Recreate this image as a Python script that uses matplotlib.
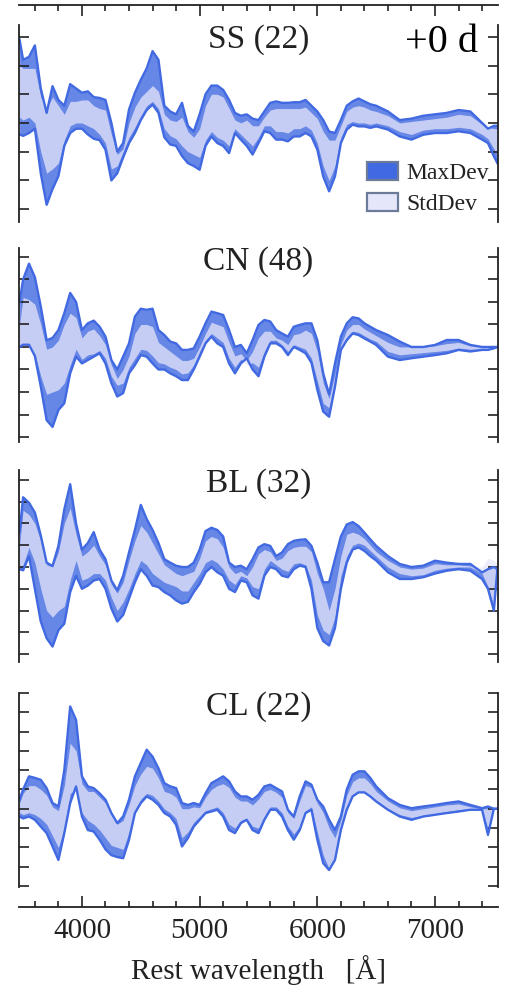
import matplotlib.pyplot as plt
from matplotlib.patches import Patch
from matplotlib.ticker import MultipleLocator

plt.rcParams['font.family'] = ['Liberation Serif', 'DejaVu Serif']

# wavelength grid (Angstrom)
wl = [3470, 3500, 3550, 3600, 3650, 3700, 3750, 3800, 3850, 3900,
      3950, 4000, 4050, 4100, 4150, 4200, 4250, 4300, 4350, 4400,
      4450, 4500, 4550, 4600, 4650, 4700, 4750, 4800, 4850, 4900,
      4950, 5000, 5050, 5100, 5150, 5200, 5250, 5300, 5350, 5400,
      5450, 5500, 5550, 5600, 5650, 5700, 5750, 5800, 5850, 5900,
      5950, 6000, 6050, 6100, 6150, 6200, 6250, 6300, 6350, 6400,
      6450, 6500, 6600, 6700, 6800, 6900, 7000, 7100, 7200, 7300,
      7400, 7450, 7500, 7530]

# SS (22)
ss_max_hi = [2.9, 2.2, 2.3, 2.7, 1.2, 0.35, 1.28, 0.8, 0.6, 1.35,
             1.2, 1.05, 1.1, 0.9, 0.87, 0.8, 0.0, -1.0, -0.7, 0.47,
             1.05, 1.5, 1.9, 2.5, 2.2, 0.6, 0.4, 0.3, 0.7, -0.1,
             -0.3, 0.3, 1.0, 1.3, 1.3, 1.15, 0.8, 0.35, 0.25, 0.3,
             0.15, 0.1, 0.4, 0.7, 0.75, 0.7, 0.7, 0.72, 0.72, 0.8,
             0.6, 0.4, 0.1, -0.3, -0.35, 0.1, 0.6, 0.75, 0.85, 0.75,
             0.65, 0.6, 0.4, 0.1, 0.15, 0.25, 0.3, 0.35, 0.45, 0.4,
             0.0, -0.2, -0.1, -0.1]
ss_max_lo = [-0.4, -0.45, -0.35, -0.2, -1.75, -2.85, -2.3, -1.85, -0.8, -0.35,
             -0.2, -0.2, -0.4, -0.55, -0.6, -0.93, -2.0, -1.75, -1.2, -0.7,
             -0.35, 0.1, 0.45, 0.64, 0.35, -0.5, -0.75, -0.8, -1.15, -1.4,
             -1.5, -1.63, -0.8, -0.47, -0.7, -0.8, -1.05, -0.35, -0.58, -0.8,
             -1.1, -0.7, -0.29, -0.35, -0.58, -0.58, -0.64, -0.47, -0.47, -0.35,
             -0.47, -0.93, -1.86, -2.38, -1.86, -0.7, -0.23, -0.06, -0.12, -0.12,
             -0.17, -0.12, -0.23, -0.47, -0.58, -0.41, -0.35, -0.35, -0.29, -0.35,
             -0.58, -0.7, -1.16, -1.4]
ss_std_hi = [2.0, 1.9, 1.9, 1.9, 0.9, 0.5, 0.9, 0.6, 0.3, 0.75,
             0.75, 0.8, 0.8, 0.6, 0.5, 0.45, -0.4, -1.1, -0.9, 0.0,
             0.55, 0.9, 1.1, 1.3, 1.1, 0.3, 0.1, 0.05, 0.2, -0.3,
             -0.5, -0.2, 0.6, 1.0, 1.0, 0.9, 0.5, 0.1, 0.0, 0.1,
             -0.1, -0.1, 0.2, 0.45, 0.5, 0.5, 0.5, 0.5, 0.5, 0.55,
             0.35, 0.15, -0.3, -0.6, -0.6, -0.1, 0.4, 0.55, 0.6, 0.55,
             0.45, 0.4, 0.25, 0.0, 0.05, 0.1, 0.15, 0.2, 0.3, 0.25,
             -0.05, -0.15, -0.2, -0.2]
ss_std_lo = [0.2, 0.1, 0.2, 0.0, -1.0, -1.75, -1.6, -1.4, -0.6, -0.1,
             0.0, 0.0, -0.1, -0.2, -0.4, -0.7, -1.6, -1.5, -1.0, -0.5,
             -0.15, 0.25, 0.6, 0.75, 0.5, -0.2, -0.45, -0.55, -0.8, -1.0,
             -1.1, -1.2, -0.6, -0.3, -0.5, -0.6, -0.8, -0.2, -0.4, -0.6,
             -0.8, -0.5, -0.1, -0.1, -0.3, -0.3, -0.35, -0.2, -0.2, -0.1,
             -0.25, -0.7, -1.5, -2.0, -1.5, -0.5, -0.05, 0.05, 0.0, 0.0,
             -0.05, 0.0, -0.1, -0.3, -0.4, -0.25, -0.2, -0.2, -0.15, -0.2,
             -0.4, -0.55, -0.9, -1.1]

# CN (48)
cn_max_hi = [2.0, 3.0, 3.7, 3.1, 1.8, 0.3, 0.4, 0.75, 1.5, 2.4,
             2.0, 0.75, 1.05, 1.17, 0.9, 0.46, -0.58, -1.0, -0.43, 0.16,
             1.35, 1.7, 1.65, 1.7, 0.75, 0.53, 0.24, 0.16, -0.13, -0.13,
             -0.06, 0.46, 1.05, 1.57, 1.5, 1.42, 0.75, 0.0, 0.09, -0.28,
             0.31, 0.98, 1.2, 1.13, 0.75, 0.6, 0.46, 0.9, 0.98, 1.05,
             1.05, 0.3, -1.17, -2.1, -0.73, 0.46, 1.05, 1.32, 1.27, 1.05,
             0.9, 0.75, 0.53, 0.24, 0.0, 0.0, 0.09, 0.31, 0.31, 0.09,
             0.0, 0.0, 0.0, 0.0]
cn_max_lo = [0.0, 0.1, 0.1, -0.4, -1.75, -3.25, -3.55, -2.8, -2.5, -1.17,
             -0.43, -0.73, -0.58, -0.43, -0.28, -0.73, -1.6, -2.2, -2.05, -1.17,
             -0.8, -0.36, -0.43, -0.73, -1.0, -1.0, -1.17, -1.3, -1.47, -1.47,
             -1.0, -0.43, 0.16, 0.46, 0.16, 0.0, -0.73, -1.17, -0.73, -0.5,
             -1.0, -1.3, -0.43, 0.16, 0.16, 0.0, -0.36, 0.0, -0.13, -0.28,
             -0.7, -1.9, -2.87, -3.1, -1.76, -0.13, 0.3, 0.6, 0.53, 0.38,
             0.24, 0.09, -0.43, -0.58, -0.5, -0.43, -0.36, -0.28, -0.13, -0.2,
             -0.13, -0.13, -0.06, 0.0]
cn_std_hi = [1.0, 2.2, 2.1, 1.9, 1.0, -0.1, 0.0, 0.3, 1.0, 1.5,
             1.3, 0.4, 0.7, 0.8, 0.5, 0.1, -0.8, -1.4, -1.0, -0.4,
             0.6, 1.0, 1.0, 0.9, 0.2, 0.0, -0.2, -0.4, -0.6, -0.6,
             -0.5, 0.0, 0.6, 1.1, 1.0, 0.9, 0.2, -0.4, -0.3, -0.6,
             -0.2, 0.4, 0.7, 0.7, 0.4, 0.3, 0.1, 0.55, 0.6, 0.75,
             0.6, -0.2, -1.6, -2.3, -1.2, 0.1, 0.75, 1.0, 1.0, 0.8,
             0.65, 0.5, 0.2, 0.0, 0.0, 0.0, 0.05, 0.15, 0.2, 0.05,
             0.0, 0.0, 0.0, 0.0]
cn_std_lo = [0.05, 0.0, 0.0, -0.3, -1.3, -2.1, -2.0, -1.9, -1.6, -0.8,
             -0.1, -0.55, -0.35, -0.3, -0.15, -0.5, -1.3, -1.7, -1.6, -0.9,
             -0.5, -0.1, -0.15, -0.4, -0.7, -0.75, -0.9, -1.0, -1.2, -1.15,
             -0.8, -0.2, 0.3, 0.6, 0.4, 0.2, -0.5, -0.9, -0.55, -0.8,
             -0.7, -0.9, -0.2, 0.3, 0.3, 0.1, -0.2, 0.1, 0.0, -0.1,
             -0.5, -1.5, -2.5, -2.7, -1.5, -0.1, 0.45, 0.7, 0.65, 0.5,
             0.35, 0.25, -0.2, -0.35, -0.3, -0.25, -0.2, -0.15, -0.05, -0.1,
             -0.1, -0.1, -0.05, 0.0]

# BL (32)
bl_max_hi = [1.6, 3.2, 2.95, 2.5, 1.45, 0.2, 0.05, 0.97, 2.64, 3.8,
             2.0, 0.8, 1.1, 1.6, 0.8, 0.36, -0.62, -1.07, -0.4, 0.67,
             1.7, 2.85, 2.2, 1.7, 1.1, 0.36, 0.2, 0.06, 0.0, 0.0,
             0.2, 0.8, 1.65, 1.8, 1.7, 1.4, 0.2, 0.0, 0.06, -0.1,
             0.36, 0.9, 1.05, 0.97, 0.5, 0.67, 1.05, 1.2, 1.25, 1.27,
             0.97, 0.2, -0.7, -0.7, 0.36, 1.4, 1.95, 2.06, 1.88, 1.58,
             1.27, 0.97, 0.5, 0.14, 0.0, 0.06, 0.29, 0.2, 0.14, 0.14,
             -0.25, -0.1, 0.0, -0.1]
bl_max_lo = [-0.1, -0.15, 0.5, -1.0, -2.5, -3.27, -3.65, -2.9, -2.6, -1.15,
             -0.4, -1.0, -0.85, -0.62, -0.55, -1.0, -1.9, -2.5, -2.2, -1.45,
             -0.7, -0.1, -0.4, -0.85, -0.92, -1.15, -1.3, -1.53, -1.68, -1.6,
             -1.15, -0.77, -0.24, 0.0, -0.24, -0.4, -1.0, -1.15, -0.62, -0.7,
             -1.3, -1.45, -0.4, 0.0, -0.1, -0.4, -0.47, -0.1, 0.06, 0.0,
             -1.0, -2.8, -3.4, -3.6, -2.8, -1.0, 0.2, 0.8, 0.9, 0.74,
             0.5, 0.3, -0.24, -0.55, -0.55, -0.47, -0.3, -0.17, -0.1, -0.17,
             -0.55, -1.0, -2.0, -0.1]
bl_std_hi = [1.0, 2.6, 2.4, 2.0, 1.2, 0.1, 0.0, 0.7, 2.0, 2.7,
             1.5, 0.5, 0.7, 1.0, 0.5, 0.1, -0.8, -1.2, -0.7, 0.3,
             1.2, 1.9, 1.6, 1.1, 0.6, 0.1, -0.1, -0.3, -0.4, -0.3,
             -0.2, 0.4, 1.2, 1.4, 1.3, 0.9, 0.0, -0.3, -0.2, -0.4,
             0.0, 0.6, 0.8, 0.7, 0.3, 0.4, 0.75, 0.9, 0.95, 0.95,
             0.7, -0.3, -1.0, -2.0, -1.0, 0.5, 1.5, 1.6, 1.5, 1.3,
             1.0, 0.7, 0.3, 0.0, -0.1, -0.05, 0.15, 0.1, 0.1, 0.05,
             0.0, 0.4, 0.3, 0.1]
bl_std_lo = [0.0, 0.1, 0.9, 0.2, -1.0, -2.0, -2.3, -2.0, -1.8, -0.6,
             0.3, -0.6, -0.5, -0.3, -0.3, -0.6, -1.4, -2.0, -1.6, -1.0,
             -0.3, 0.3, 0.1, -0.3, -0.5, -0.7, -0.8, -0.9, -1.1, -1.1,
             -0.7, -0.3, 0.2, 0.35, 0.2, -0.1, -0.6, -0.8, -0.4, -0.5,
             -0.9, -1.0, -0.1, 0.3, 0.1, -0.1, -0.2, 0.15, 0.2, 0.1,
             -0.6, -2.2, -2.9, -3.1, -2.3, -0.4, 0.5, 1.0, 1.1, 1.0,
             0.75, 0.5, 0.0, -0.3, -0.4, -0.35, -0.15, -0.05, 0.0, 0.0,
             -0.3, -0.9, -1.8, -0.2]

# CL (22)
cl_max_hi = [0.47, 1.0, 1.68, 1.6, 1.5, 1.07, 0.3, 0.12, 2.0, 5.3,
             4.6, 1.68, 1.16, 1.07, 0.8, 0.47, -0.22, -0.74, -0.4, 0.47,
             1.68, 2.37, 3.06, 2.7, 2.1, 1.33, 1.16, 1.07, 0.3, 0.2,
             0.3, 0.2, 0.8, 1.33, 1.5, 1.68, 1.42, 0.9, 0.64, 0.64,
             0.47, 0.72, 1.16, 1.25, 1.07, 0.9, -0.05, -0.4, 0.64, 1.42,
             1.25, 0.47, 0.12, -0.57, -1.1, -0.4, 1.0, 1.76, 1.94, 1.94,
             1.6, 1.16, 0.55, 0.2, 0.03, 0.12, 0.2, 0.3, 0.38, 0.2,
             0.03, 0.12, 0.0, 0.0]
cl_max_lo = [-0.4, -0.5, -0.4, -0.57, -0.92, -1.26, -1.95, -2.65, -1.26, 0.3,
             1.16, -0.4, -1.1, -1.18, -1.6, -2.1, -2.4, -2.5, -2.56, -1.6,
             -0.22, 0.3, 0.64, 0.47, 0.2, -0.22, -0.4, -0.83, -1.95, -1.52,
             -0.92, -0.57, -0.22, -0.14, -0.05, -0.4, -1.1, -1.26, -0.74, -0.57,
             -1.1, -1.26, -0.57, -0.05, -0.05, -0.4, -1.1, -1.6, -1.1, -0.22,
             -0.05, -1.6, -2.82, -3.17, -2.65, -1.1, -0.05, 0.64, 0.85, 0.85,
             0.64, 0.38, -0.05, -0.4, -0.57, -0.4, -0.31, -0.22, -0.14, -0.05,
             -0.05, -1.35, 0.0, 0.0]
cl_std_hi = [0.3, 0.8, 1.2, 1.2, 1.0, 0.7, 0.1, -0.1, 1.2, 3.4,
             3.0, 1.3, 0.9, 0.9, 0.6, 0.3, -0.3, -0.8, -0.6, 0.2,
             1.2, 1.8, 2.2, 2.1, 1.6, 0.9, 0.8, 0.6, 0.0, 0.0,
             0.1, 0.05, 0.6, 1.0, 1.2, 1.3, 1.1, 0.6, 0.4, 0.4,
             0.2, 0.5, 0.9, 1.0, 0.85, 0.6, -0.2, -0.5, 0.4, 1.2,
             1.1, 0.3, -0.2, -1.0, -1.5, -0.6, 0.7, 1.4, 1.6, 1.6,
             1.3, 0.9, 0.4, 0.05, -0.1, 0.0, 0.1, 0.2, 0.25, 0.1,
             0.0, 0.0, 0.0, 0.0]
cl_std_lo = [-0.2, -0.3, -0.2, -0.3, -0.5, -0.8, -1.4, -2.0, -1.0, 0.8,
             1.0, -0.2, -0.6, -0.8, -1.1, -1.5, -1.9, -2.0, -2.1, -1.2,
             -0.1, 0.5, 0.8, 0.7, 0.4, 0.0, -0.2, -0.5, -1.5, -1.2,
             -0.7, -0.4, -0.1, 0.0, 0.1, -0.2, -0.8, -1.0, -0.6, -0.5,
             -0.9, -1.0, -0.4, 0.1, 0.1, -0.2, -0.9, -1.3, -0.9, -0.1,
             0.1, -1.2, -2.4, -3.1, -2.5, -1.0, 0.0, 0.7, 0.85, 0.85,
             0.65, 0.4, 0.0, -0.3, -0.45, -0.35, -0.25, -0.15, -0.05, 0.0,
             -0.05, -1.0, 0.0, 0.0]

titles = ['SS (22)', 'CN (48)', 'BL (32)', 'CL (22)']
max_hi = [ss_max_hi, cn_max_hi, bl_max_hi, cl_max_hi]
max_lo = [ss_max_lo, cn_max_lo, bl_max_lo, cl_max_lo]
std_hi = [ss_std_hi, cn_std_hi, bl_std_hi, cl_std_hi]
std_lo = [ss_std_lo, cn_std_lo, bl_std_lo, cl_std_lo]
ylims = [(-3.45, 3.41), (-4.22, 4.4), (-4.36, 4.45), (-4.05, 6.0)]
yticks = [range(-3, 4), range(-4, 5), range(-4, 5), range(-4, 7)]

# panel rectangles in figure fractions: [left, bottom, width, height]
rects = [[0.0376, 0.7746, 0.9485, 0.2000],
         [0.0376, 0.5513, 0.9485, 0.1970],
         [0.0376, 0.3279, 0.9485, 0.1949],
         [0.0376, 0.0995, 0.9485, 0.1970]]

xmin, xmax = 3465, 7535
txt = '#222222'
blue = 'royalblue'

fig = plt.figure(figsize=(5.05, 9.85), dpi=100)

# outer frame carrying only the top and bottom wavelength axes
bg = fig.add_axes([0.0376, 0.0792, 0.9485, 0.9157])
bg.set_xlim(xmin, xmax)
bg.set_ylim(0, 1)
bg.patch.set_visible(False)
bg.spines['left'].set_visible(False)
bg.spines['right'].set_visible(False)
for s in ['top', 'bottom']:
    bg.spines[s].set_linewidth(1.3)
    bg.spines[s].set_color(txt)
bg.set_yticks([])
bg.xaxis.set_major_locator(MultipleLocator(1000))
bg.xaxis.set_minor_locator(MultipleLocator(200))
bg.tick_params(axis='x', which='both', direction='in', top=True, bottom=True,
               width=1.2, color=txt, labelsize=21, labelcolor=txt, pad=8)
bg.tick_params(axis='x', which='major', length=8)
bg.tick_params(axis='x', which='minor', length=4)
bg.set_xlabel('Rest wavelength   [Å]', fontsize=21, color=txt, labelpad=8)

for i in range(4):
    ax = fig.add_axes(rects[i])
    ax.patch.set_visible(False)
    ax.fill_between(wl, max_lo[i], max_hi[i], color=blue, alpha=0.8, lw=0)
    ax.fill_between(wl, std_lo[i], std_hi[i], color='lavender', alpha=0.75, lw=0)
    ax.plot(wl, max_hi[i], color=blue, lw=1.7)
    ax.plot(wl, max_lo[i], color=blue, lw=1.7)
    ax.set_xlim(xmin, xmax)
    ax.set_ylim(*ylims[i])
    ax.set_yticks(list(yticks[i]))
    ax.set_xticks([])
    ax.spines['top'].set_visible(False)
    ax.spines['bottom'].set_visible(False)
    for s in ['left', 'right']:
        ax.spines[s].set_linewidth(1.3)
        ax.spines[s].set_color(txt)
    ax.tick_params(axis='y', direction='in', left=True, right=True,
                   labelleft=False, length=7, width=1.2, color=txt)
    ax.text(0.5, 0.887, titles[i], transform=ax.transAxes, ha='center',
            va='baseline', fontsize=24, color=txt)
    if i == 0:
        ax.text(0.958, 0.863, '+0 d', transform=ax.transAxes, ha='right',
                va='baseline', fontsize=29, color='black')
        handles = [Patch(facecolor=blue, edgecolor='#6c7b99', lw=1.6, label='MaxDev'),
                   Patch(facecolor='lavender', edgecolor='#6c7b99', lw=1.6, label='StdDev')]
        ax.legend(handles=handles, loc='center left', bbox_to_anchor=(0.7265, 0.17),
                  frameon=False, fontsize=17, handlelength=1.3, handleheight=0.8,
                  handletextpad=0.35, labelspacing=0.35, borderpad=0,
                  borderaxespad=0, labelcolor=txt)

fig.savefig('out.png', dpi=100)
